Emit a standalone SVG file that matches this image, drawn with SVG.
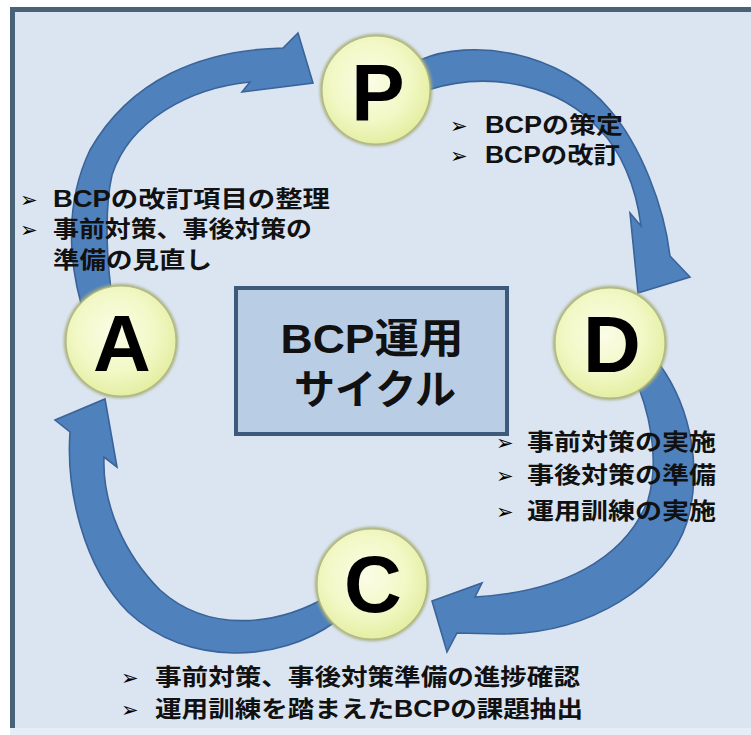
<svg xmlns="http://www.w3.org/2000/svg" width="751" height="735" viewBox="0 0 751 735">
<defs>
<radialGradient id="ball" cx="0.45" cy="0.42" r="0.6">
<stop offset="0" stop-color="#fbfde6"/>
<stop offset="0.6" stop-color="#f2f8c6"/>
<stop offset="1" stop-color="#e3eea0"/>
</radialGradient>
<filter id="fuzz" x="-20%" y="-20%" width="140%" height="140%">
<feGaussianBlur stdDeviation="1.6"/>
</filter>
<style>
.arrow{fill:#4f81bd;stroke:#3a6499;stroke-width:1.6;stroke-linejoin:miter}
.halo{fill:#a7ad7c;filter:url(#fuzz)}
.ball{fill:url(#ball);stroke:#b3ba82;stroke-width:1.2}
.letter{font-family:"Liberation Sans",Arial,sans-serif;font-weight:bold;font-size:80px;fill:#000;text-anchor:middle}
.lbl{font-family:"Liberation Sans","Noto Sans CJK JP",sans-serif;font-weight:bold;font-size:23px;fill:#111}
.bul{font-family:"DejaVu Sans",sans-serif;font-size:21px;fill:#000}
.ctr{font-family:"Liberation Sans","Noto Sans CJK JP",sans-serif;font-weight:bold;font-size:41px;fill:#111;text-anchor:middle}
</style>
</defs>
<rect x="0" y="0" width="751" height="735" fill="#ffffff"/>
<rect x="10" y="7" width="741" height="721" fill="#dbe5f1"/>
<rect x="10" y="728" width="741" height="7" fill="#e5edf7"/>
<rect x="10" y="7" width="741" height="5" fill="#4a6278"/>
<rect x="10" y="7" width="5" height="721" fill="#4a6278"/>

<g id="connectors">
<path class="arrow" d="M 86 320 C 66 260, 66 200, 90 150 C 130 80, 200 50, 283 48 L 298 33 L 313 83 L 242 92 L 250 82 C 190 88, 130 120, 112 175 C 104 210, 106 270, 116 320 Z"/>
<path class="arrow" d="M 420 60 C 470 38, 560 50, 610 110 C 640 145, 664 205, 670 256 L 690 277 L 638 293 L 630 213 L 641 226 C 636 185, 620 150, 600 130 C 560 85, 490 70, 428 90 Z"/>
<path class="arrow" d="M 660 365 C 692 410, 702 470, 687 522 C 667 585, 590 634, 500 634 L 457 633 L 447 652 L 432 601 L 482 583 L 475 597 C 560 592, 625 560, 648 500 C 660 460, 650 410, 632 372 Z"/>
<path class="arrow" d="M 335 622 C 280 662, 188 668, 128 612 C 83 566, 66 490, 70 432 L 55 420 L 105 399 L 117 467 L 104 457 C 102 505, 125 555, 160 590 C 210 635, 280 625, 330 595 Z"/>
</g>

<g id="center">
<rect x="236" y="288" width="271" height="146" fill="#b9cde4" stroke="#3d5a7a" stroke-width="4"/>
<text class="ctr" x="372" y="353" textLength="183" lengthAdjust="spacingAndGlyphs">BCP運用</text>
<text class="ctr" x="375" y="404">サイクル</text>
</g>

<g id="node-P">
<circle class="halo" cx="376" cy="90" r="56"/>
<circle class="ball" cx="376" cy="90" r="54"/>
<text class="letter" x="378" y="120">P</text>
<text class="bul" x="450" y="133">➢</text>
<text class="lbl" x="485" y="133" textLength="138" lengthAdjust="spacingAndGlyphs">BCPの策定</text>
<text class="bul" x="450" y="163">➢</text>
<text class="lbl" x="485" y="163" textLength="135" lengthAdjust="spacingAndGlyphs">BCPの改訂</text>
</g>

<g id="node-D">
<circle class="halo" cx="610" cy="343" r="57"/>
<circle class="ball" cx="610" cy="343" r="55"/>
<text class="letter" x="612" y="372">D</text>
<text class="bul" x="496" y="450">➢</text>
<text class="lbl" x="527" y="450" textLength="189" lengthAdjust="spacingAndGlyphs">事前対策の実施</text>
<text class="bul" x="496" y="483">➢</text>
<text class="lbl" x="527" y="483" textLength="189" lengthAdjust="spacingAndGlyphs">事後対策の準備</text>
<text class="bul" x="496" y="519">➢</text>
<text class="lbl" x="527" y="519" textLength="189" lengthAdjust="spacingAndGlyphs">運用訓練の実施</text>
</g>

<g id="node-C">
<circle class="halo" cx="372" cy="584" r="57"/>
<circle class="ball" cx="372" cy="584" r="55"/>
<text class="letter" x="373" y="612">C</text>
<text class="bul" x="121" y="685">➢</text>
<text class="lbl" x="155" y="685" textLength="425" lengthAdjust="spacingAndGlyphs">事前対策、事後対策準備の進捗確認</text>
<text class="bul" x="121" y="717">➢</text>
<text class="lbl" x="155" y="717" textLength="428" lengthAdjust="spacingAndGlyphs">運用訓練を踏まえたBCPの課題抽出</text>
</g>

<g id="node-A">
<circle class="halo" cx="121" cy="341" r="57"/>
<circle class="ball" cx="121" cy="341" r="55"/>
<text class="letter" x="122" y="371">A</text>
<text class="bul" x="20" y="207">➢</text>
<text class="lbl" x="53" y="207" textLength="277" lengthAdjust="spacingAndGlyphs">BCPの改訂項目の整理</text>
<text class="bul" x="20" y="237">➢</text>
<text class="lbl" x="53" y="237" textLength="259" lengthAdjust="spacingAndGlyphs">事前対策、事後対策の</text>
<text class="lbl" x="53" y="268" textLength="159" lengthAdjust="spacingAndGlyphs">準備の見直し</text>
</g>
</svg>
